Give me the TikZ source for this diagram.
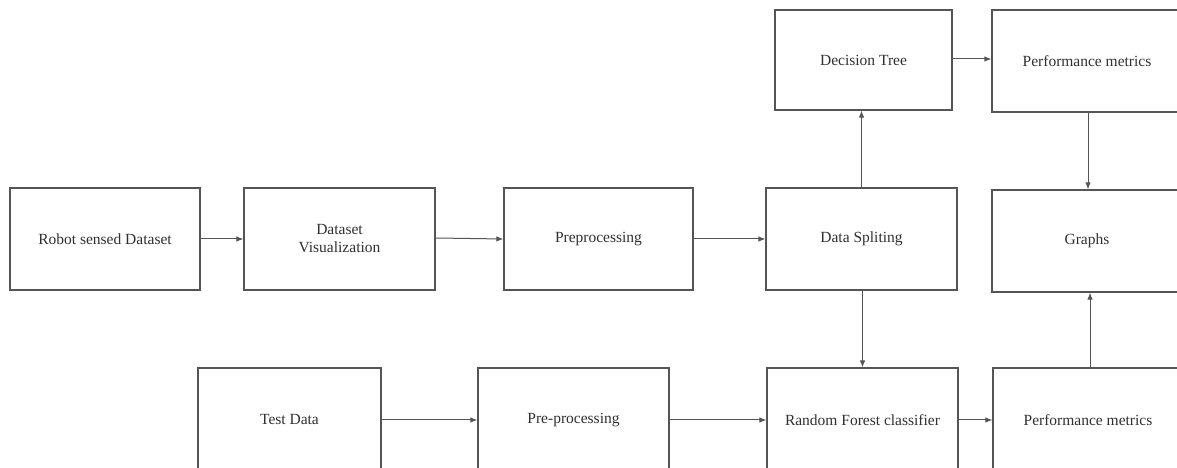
\documentclass[tikz,border=0pt]{standalone}
\usepackage{fontspec}
\setmainfont{Liberation Serif}
\usetikzlibrary{arrows.meta}
\definecolor{linec}{HTML}{555555}
\definecolor{textc}{HTML}{303030}
\tikzset{
  box/.style={draw=linec, line width=1.2pt, fill=white, text=textc, align=center,
    inner sep=0pt, font=\fontsize{15.5}{18}\selectfont},
  conn/.style={draw=linec, line width=1pt, -{Latex[length=7pt,width=5.5pt]}}
}
\begin{document}
\begin{tikzpicture}[x=1pt,y=1pt]
\useasboundingbox (0,0) rectangle (1177,468);
\clip (0,0) rectangle (1177,468);
\fill[white] (0,0) rectangle (1177,468);
% nodes (y = 468 - image y)
\node[box, minimum width=190pt, minimum height=102pt] (robot) at (105,229) {Robot sensed Dataset};
\node[box, minimum width=191pt, minimum height=102pt] (vis) at (339.5,229) {Dataset\\Visualization};
\node[box, minimum width=189pt, minimum height=102pt] (pre) at (598.5,229) {Preprocessing};
\node[box, minimum width=191pt, minimum height=102pt] (split) at (861.5,229) {Data Spliting};
\node[box, minimum width=177pt, minimum height=100pt] (dt) at (863.5,408) {Decision Tree};
\node[box, minimum width=190pt, minimum height=102pt] (pmtop) at (1087,407) {Performance metrics};
\node[box, minimum width=190pt, minimum height=102pt] (graphs) at (1087,227) {Graphs};
\node[box, minimum width=183pt, minimum height=104pt] (test) at (289.5,48) {Test Data};
\node[box, minimum width=191pt, minimum height=104pt] (pre2) at (573.5,48) {Pre-processing};
\node[box, minimum width=191pt, minimum height=104pt] (rf) at (862.5,48) {Random Forest classifier};
\node[box, minimum width=190pt, minimum height=104pt] (pmbot) at (1088,48) {Performance metrics};
% connectors
\draw[conn] (robot.east) -- (vis.west);
\draw[conn] ([yshift=1pt]vis.east) -- ([yshift=0pt]pre.west);
\draw[conn] (pre.east) -- (split.west);
\draw[conn] (split.north) -- (split.north |- dt.south);
\draw[conn] ([xshift=1pt]split.south) -- ([xshift=1pt]split.south |- rf.north);
\draw[conn] ([yshift=1pt]dt.east) -- ([yshift=1pt]dt.east -| pmtop.west);
\draw[conn] ([xshift=1pt]pmtop.south) -- ([xshift=1pt]pmtop.south |- graphs.north);
\draw[conn] ([xshift=2pt]pmbot.north) -- ([xshift=2pt]pmbot.north |- graphs.south);
\draw[conn] (test.east) -- (pre2.west);
\draw[conn] (pre2.east) -- (rf.west);
\draw[conn] (rf.east) -- (pmbot.west);
\end{tikzpicture}
\end{document}
